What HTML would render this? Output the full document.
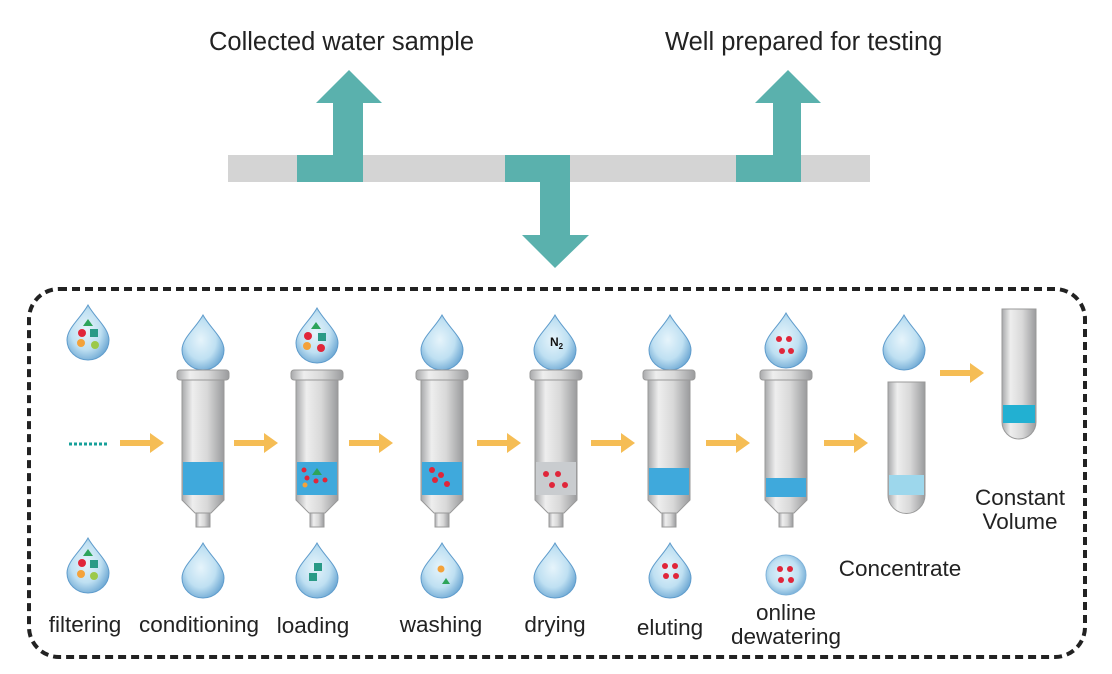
<!DOCTYPE html><html><head><style>body{margin:0;background:#fff}svg{display:block}text{font-family:"Liberation Sans",sans-serif;fill:#222}</style></head><body>
<svg width="1112" height="674" viewBox="0 0 1112 674" xmlns="http://www.w3.org/2000/svg">
<defs>
<radialGradient id="dg" cx="0.45" cy="0.45" r="0.6"><stop offset="0" stop-color="#e6f4fb"/><stop offset="0.6" stop-color="#bfe0f2"/><stop offset="1" stop-color="#6fa9d4"/></radialGradient>
<linearGradient id="cg" x1="0" x2="1"><stop offset="0" stop-color="#a8a9ab"/><stop offset="0.25" stop-color="#eeeeee"/><stop offset="0.6" stop-color="#d8d8d8"/><stop offset="1" stop-color="#9a9b9d"/></linearGradient>
<g id="drop"><path d="M0,-23 C7,-10 21,0 21,12 A21,20 0 0 1 -21,12 C-21,0 -7,-10 0,-23Z" fill="url(#dg)" stroke="#5f9ccc" stroke-width="1"/></g>
<g id="cart">
<rect x="-26" y="-73" width="52" height="10" rx="3" fill="url(#cg)" stroke="#999"/>
<path d="M-21,-63 H21 V57 L8,70 H-8 L-21,57Z" fill="url(#cg)" stroke="#999"/>
<rect x="-7" y="70" width="14" height="14" fill="url(#cg)" stroke="#999"/>
</g>
<path id="arr" d="M0,-3 H30 V-10 L44,0 L30,10 V3 H0Z" fill="#f5bd55"/>
</defs>
<rect x="228" y="155" width="642" height="27" fill="#d4d4d4"/>
<g fill="#5ab1ad"><rect x="297" y="155" width="66" height="27"/><rect x="505" y="155" width="65" height="27"/><rect x="736" y="155" width="65" height="27"/>
<path d="M333,155 V103 H316 L349,70 L382,103 H363 V155Z"/><path d="M773,155 V103 H755 L788,70 L821,103 H801 V155Z"/><path d="M540,182 V235 H522 L555,268 L589,235 H570 V182Z"/></g>
<text x="209" y="50" font-size="25.5">Collected water sample</text>
<text x="665" y="50" font-size="25.5">Well prepared for testing</text>
<rect x="29" y="289" width="1056" height="368" rx="30" fill="none" stroke="#222" stroke-width="4" stroke-dasharray="8 5"/>
<use href="#drop" x="88" y="328"/><use href="#drop" x="203" y="338"/><use href="#drop" x="317" y="331"/><use href="#drop" x="442" y="338"/><use href="#drop" x="555" y="338"/><use href="#drop" x="670" y="338"/><use href="#drop" x="786" y="336"/><use href="#drop" x="904" y="338"/>
<g><path d="M83,326 l5,-7 5,7z" fill="#2da45a"/><circle cx="82" cy="333" r="4" fill="#e0263a"/><rect x="90" y="329" width="8" height="8" fill="#2a9a86"/><circle cx="81" cy="343" r="4" fill="#f4a23a"/><circle cx="95" cy="345" r="4" fill="#9cc94a"/></g>
<g><path d="M311,329 l5,-7 5,7z" fill="#2da45a"/><circle cx="308" cy="336" r="4" fill="#e0263a"/><rect x="318" y="333" width="8" height="8" fill="#2a9a86"/><circle cx="307" cy="346" r="4" fill="#f4a23a"/><circle cx="321" cy="348" r="4" fill="#e0263a"/></g>
<text x="550" y="346" font-size="12" font-weight="bold" style="fill:#111">N<tspan font-size="8" dy="3">2</tspan></text>
<g fill="#e0263a"><circle cx="779" cy="339" r="3"/><circle cx="789" cy="339" r="3"/><circle cx="782" cy="351" r="3"/><circle cx="791" cy="351" r="3"/></g>
<g><use href="#cart" x="203" y="443"/><use href="#cart" x="317" y="443"/><use href="#cart" x="442" y="443"/><use href="#cart" x="556" y="443"/><use href="#cart" x="669" y="443"/><use href="#cart" x="786" y="443"/></g>
<g fill="#3fa9dc"><rect x="183" y="462" width="40" height="33"/><rect x="297" y="462" width="40" height="33"/><rect x="422" y="462" width="40" height="33"/><rect x="536" y="462" width="40" height="33" fill="#c9cccf"/><rect x="649" y="468" width="40" height="27"/><rect x="766" y="478" width="40" height="19"/></g>
<g fill="#e0263a"><circle cx="304" cy="470" r="2.5"/><circle cx="307" cy="478" r="2.5"/><circle cx="316" cy="481" r="2.5"/><circle cx="325" cy="480" r="2.5"/><circle cx="432" cy="470" r="3"/><circle cx="441" cy="475" r="3"/><circle cx="435" cy="480" r="3"/><circle cx="447" cy="484" r="3"/><circle cx="546" cy="474" r="3"/><circle cx="558" cy="474" r="3"/><circle cx="552" cy="485" r="3"/><circle cx="565" cy="485" r="3"/></g>
<path d="M312,475 l5,-7 5,7z" fill="#2da45a"/><circle cx="305" cy="485" r="2.5" fill="#f4a23a"/>
<path d="M888,382 H925 V495 A18.5,18.5 0 0 1 888,495Z" fill="url(#cg)" stroke="#999"/><rect x="889" y="475" width="35" height="20" fill="#9dd7ec"/>
<path d="M1002,309 H1036 V422 A17,17 0 0 1 1002,422Z" fill="url(#cg)" stroke="#999"/><rect x="1003" y="405" width="32" height="18" fill="#22b0d2"/>
<use href="#arr" x="120" y="443"/><use href="#arr" x="234" y="443"/><use href="#arr" x="349" y="443"/><use href="#arr" x="477" y="443"/><use href="#arr" x="591" y="443"/><use href="#arr" x="706" y="443"/><use href="#arr" x="824" y="443"/><use href="#arr" x="940" y="373"/>
<line x1="69" y1="444" x2="109" y2="444" stroke="#17a09a" stroke-width="3" stroke-dasharray="3 2"/>
<use href="#drop" x="88" y="561"/><use href="#drop" x="203" y="566"/><use href="#drop" x="317" y="566"/><use href="#drop" x="442" y="566"/><use href="#drop" x="555" y="566"/><use href="#drop" x="670" y="566"/>
<circle cx="786" cy="575" r="20" fill="url(#dg)" stroke="#7fb3da"/>
<g><path d="M83,556 l5,-7 5,7z" fill="#2da45a"/><circle cx="82" cy="563" r="4" fill="#e0263a"/><rect x="90" y="560" width="8" height="8" fill="#2a9a86"/><circle cx="81" cy="574" r="4" fill="#f4a23a"/><circle cx="94" cy="576" r="4" fill="#9cc94a"/></g>
<rect x="314" y="563" width="8" height="8" fill="#2a9a86"/><rect x="309" y="573" width="8" height="8" fill="#2a9a86"/>
<circle cx="441" cy="569" r="3.5" fill="#f4a23a"/><path d="M442,584 l4,-6 4,6z" fill="#2da45a"/>
<g fill="#e0263a"><circle cx="665" cy="566" r="3"/><circle cx="675" cy="566" r="3"/><circle cx="666" cy="576" r="3"/><circle cx="676" cy="576" r="3"/><circle cx="780" cy="569" r="3"/><circle cx="790" cy="569" r="3"/><circle cx="781" cy="580" r="3"/><circle cx="791" cy="580" r="3"/></g>
<g font-size="22.5" text-anchor="middle"><text x="85" y="632">filtering</text><text x="199" y="632">conditioning</text><text x="313" y="633">loading</text><text x="441" y="632">washing</text><text x="555" y="632">drying</text><text x="670" y="635">eluting</text><text x="786" y="620">online</text><text x="786" y="644">dewatering</text><text x="900" y="576">Concentrate</text><text x="1020" y="505">Constant</text><text x="1020" y="529">Volume</text></g>
</svg></body></html>
